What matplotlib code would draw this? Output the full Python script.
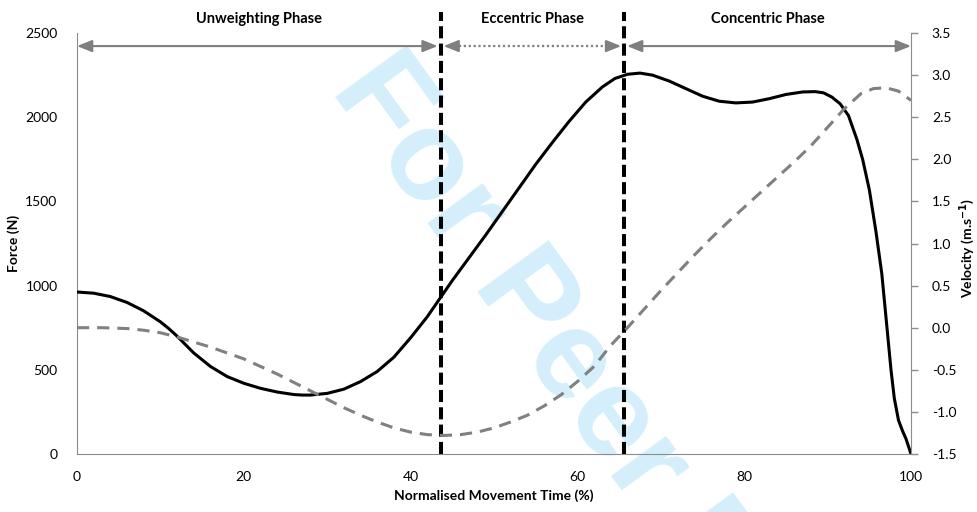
import matplotlib
matplotlib.use("Agg")
from matplotlib import pyplot as plt
from matplotlib.ticker import FormatStrFormatter

plt.rcParams["font.family"] = ["Lato", "DejaVu Sans"]

# force trace (N) against normalised time (%)
force_time = [0, 2, 4, 6, 8, 10, 11, 12, 13, 14, 16, 18, 20, 22, 24, 26, 27,
              28, 30, 32, 34, 36, 38, 40, 42, 43.6, 45, 47, 49, 51, 53, 55,
              57, 59, 61, 63, 64.5, 66, 67.5, 69, 71, 73, 75, 77, 79, 81,
              83, 85, 87, 88.5, 89.5, 90.5, 91.5, 92.5, 93.5, 94.2, 95,
              95.8, 96.5, 97.1, 97.6, 98, 98.5, 99, 99.4, 100]
force_n = [962, 955, 935, 900, 850, 785, 745, 700, 650, 600, 520, 460, 420,
           390, 368, 353, 350, 350, 360, 385, 430, 490, 575, 690, 815, 930,
           1030, 1165, 1300, 1440, 1580, 1720, 1850, 1975, 2090, 2180, 2230,
           2255, 2262, 2250, 2215, 2170, 2125, 2095, 2085, 2090, 2110, 2135,
           2150, 2152, 2145, 2120, 2080, 2010, 1870, 1750, 1570, 1320, 1070,
           760, 500, 330, 200, 135, 90, 0]

# velocity trace (m/s)
vel_time = [0, 3, 6, 8, 10, 12, 14, 16, 18, 20, 22, 24, 26, 28, 30, 32, 34,
            36, 38, 40, 42, 44, 46, 48, 50, 52, 54, 56, 58, 60, 62, 64, 66,
            68, 70, 72, 74, 76, 78, 80, 82, 84, 86, 88, 90, 92, 94, 95.5,
            97, 98.5, 100]
vel_ms = [0.0, 0.0, -0.01, -0.03, -0.06, -0.11, -0.17, -0.23, -0.30, -0.37,
          -0.46, -0.55, -0.65, -0.75, -0.85, -0.95, -1.04, -1.12, -1.19,
          -1.24, -1.27, -1.28, -1.27, -1.24, -1.19, -1.12, -1.04, -0.93,
          -0.80, -0.64, -0.46, -0.21, 0.0, 0.22, 0.44, 0.65, 0.86, 1.06,
          1.25, 1.43, 1.61, 1.79, 1.97, 2.16, 2.38, 2.60, 2.78, 2.84, 2.85,
          2.81, 2.70]

phase_bounds = [43.6, 65.6]
phase_names = ["Unweighting Phase", "Eccentric Phase", "Concentric Phase"]

x_ticks = [0, 20, 40, 60, 80, 100]
force_ticks = [0, 500, 1000, 1500, 2000, 2500]
vel_ticks = [-1.5, -1.0, -0.5, 0.0, 0.5, 1.0, 1.5, 2.0, 2.5, 3.0, 3.5]

axis_grey = "#8c8c8c"
arrow_grey = "#7f7f7f"

fig = plt.figure(figsize=(9.78, 5.12), dpi=100)
ax = fig.add_axes([0.0787, 0.1133, 0.8528, 0.8222])
ax2 = ax.twinx()
ax.patch.set_visible(False)

# watermark
ax.text(649 / 978, 1 - 472 / 512, "For Peer Review", transform=fig.transFigure,
        fontsize=92, fontweight="bold", family="Liberation Sans",
        color="#d4effb", rotation=-54, ha="center", va="center",
        zorder=0, clip_on=False)

ax.plot(force_time, force_n, color="black", lw=2.2, zorder=3,
        solid_joinstyle="round")
ax2.plot(vel_time, vel_ms, color="#808080", lw=2.2, dashes=(4, 2.6), zorder=3)

for b in phase_bounds:
    ax.axvline(b, ymin=0, ymax=1.05, color="black", lw=2.9, dashes=(3, 1.3),
               clip_on=False, zorder=4)

ax.set_xlim(0, 100)
ax.set_ylim(0, 2500)
ax2.set_ylim(-1.5, 3.5)
ax.set_xticks(x_ticks)
ax.set_yticks(force_ticks)
ax2.set_yticks(vel_ticks)
ax2.yaxis.set_major_formatter(FormatStrFormatter("%.1f"))

for a in (ax, ax2):
    for s in a.spines.values():
        s.set_color(axis_grey)
    a.spines["top"].set_visible(False)
ax.spines["right"].set_visible(False)
ax2.spines["left"].set_visible(False)
ax2.spines["bottom"].set_visible(False)

ax.tick_params(axis="x", length=0, pad=12, labelsize=10)
ax.tick_params(axis="y", length=0, pad=14, labelsize=10)
ax2.tick_params(axis="y", length=5, width=1, color=axis_grey, pad=10, labelsize=10)

ax.set_xlabel("Normalised Movement Time (%)", fontsize=10, fontweight="bold")
ax.set_ylabel("Force (N)", fontsize=10, fontweight="bold")
ax2.set_ylabel(r"Velocity (m.s$^{\mathbf{-1}}$)", fontsize=10, fontweight="bold")
ax.xaxis.set_label_coords(0.5, -0.085)
ax.yaxis.set_label_coords(-0.068, 0.5)
ax2.yaxis.set_label_coords(1.055, 0.49)

# phase arrows and names
trans = ax.get_xaxis_transform()
edges = [0] + phase_bounds + [100]
arrow_y = 0.969
head = dict(arrowstyle="-|>,head_length=0.9,head_width=0.36", color=arrow_grey,
            lw=1.5, mutation_scale=10, shrinkA=0, shrinkB=0)
both = dict(head, arrowstyle="<|-|>,head_length=0.9,head_width=0.36")
gap = 0.35
for i, name in enumerate(phase_names):
    lo = edges[i] + (gap if i > 0 else 0)
    hi = edges[i + 1] - (gap if i < 2 else 0)
    if i == 1:
        ax.plot([lo + 1.2, hi - 1.2], [arrow_y, arrow_y], transform=trans,
                color=arrow_grey, lw=1.6, ls=(0, (1, 1.2)), clip_on=False)
        ax.annotate("", xy=(lo, arrow_y), xytext=(lo + 1.6, arrow_y),
                    xycoords=trans, textcoords=trans, arrowprops=head,
                    annotation_clip=False)
        ax.annotate("", xy=(hi, arrow_y), xytext=(hi - 1.6, arrow_y),
                    xycoords=trans, textcoords=trans, arrowprops=head,
                    annotation_clip=False)
    else:
        ax.annotate("", xy=(hi, arrow_y), xytext=(lo, arrow_y),
                    xycoords=trans, textcoords=trans, arrowprops=both,
                    annotation_clip=False)
    ax.text((edges[i] + edges[i + 1]) / 2, 1.033, name, transform=trans,
            ha="center", va="center", fontsize=10.5, fontweight="bold")

fig.savefig("out.png", dpi=100, facecolor="white")
